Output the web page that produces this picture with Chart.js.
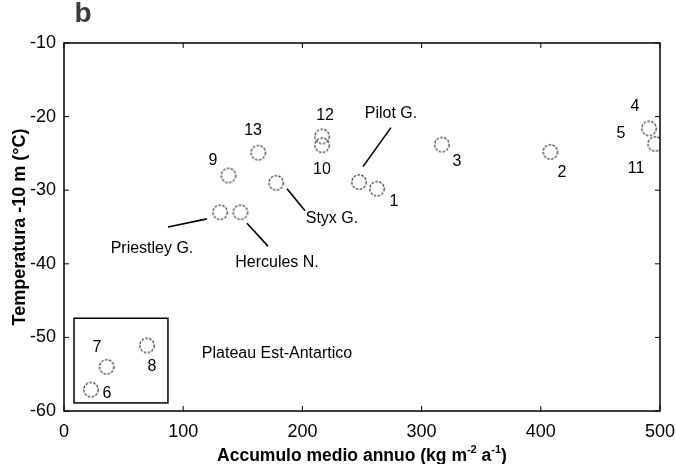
<!DOCTYPE html>
<html>
<head>
<meta charset="utf-8">
<script src="https://cdn.jsdelivr.net/npm/chart.js@4.4.1/dist/chart.umd.min.js"></script>
<style>
  html, body { margin: 0; padding: 0; background: #ffffff; }
  #wrap { width: 676px; height: 464px; position: relative; }
</style>
</head>
<body>
<div id="wrap"><canvas id="chart"></canvas></div>
<script>
// dati: accumulo (kg m-2 a-1) e temperatura a -10 m (°C)
var siteIds = ["1", "2", "3", "4", "11", "6", "7", "8", "9", "10", "12", "13", "Styx", "Pilot", "Priestley", "Hercules"];
var accumulo = [262.6, 408, 317, 490.8, 496, 22.6, 35.8, 69.6, 138, 216.5, 216.5, 163, 178, 247.5, 131, 148];
var temperatura = [-29.8, -24.8, -23.8, -21.6, -23.7, -57.1, -54.0, -51.1, -28.0, -23.9, -22.7, -24.9, -29.0, -28.9, -33.0, -33.0];

// etichette numeriche e testi (posizioni in unita' dei dati)
var labelTexts = ["13", "9", "12", "10", "1", "3", "2", "4", "5", "11", "7", "8", "6",
  "Styx G.", "Pilot G.", "Priestley G.", "Hercules N.", "Plateau Est-Antartico"];
var labelX = [158.6, 125, 219, 216.4, 276.8, 329.7, 417.8, 479, 467.3, 479.9, 27.7, 73.8, 36.1,
  224.8, 274.3, 73.8, 178.7, 178.7];
var labelY = [-21.9, -26.0, -19.8, -27.2, -31.6, -26.1, -27.6, -18.6, -22.3, -27.1, -51.4, -54.0, -57.7,
  -33.8, -19.6, -38.0, -39.9, -52.2];

// linee di richiamo [x1, y1, x2, y2]
var leaderLines = [
  [187.1, -29.8, 202.2, -32.8],
  [274.3, -21.5, 250.8, -26.8],
  [87.2, -35.0, 120, -33.9],
  [153.5, -34.5, 171.1, -37.6]
];

// riquadro plateau
var boxX = [8.4, 87.2];
var boxY = [-47.4, -58.9];

var xTicks = [0, 100, 200, 300, 400, 500];
var yTicks = [-10, -20, -30, -40, -50, -60];

// cerchio tratteggiato per i punti
function dashedCircle() {
  var c = document.createElement("canvas");
  c.width = 18;
  c.height = 18;
  var g = c.getContext("2d");
  g.strokeStyle = "#2a2a2a";
  g.lineWidth = 1.2;
  g.setLineDash([2.5, 1.5]);
  g.beginPath();
  g.arc(9, 9, 7.2, 0, Math.PI * 2);
  g.stroke();
  return c;
}

var FONT = "'Liberation Sans', Arial, sans-serif";

var annotazioni = {
  id: "annotazioni",
  afterDatasetsDraw: function (chart) {
    var ctx = chart.ctx;
    var xs = chart.scales.x;
    var ys = chart.scales.y;
    var a = chart.chartArea;
    ctx.save();

    // cornice e tacche interne
    ctx.strokeStyle = "#000000";
    ctx.lineWidth = 1.5;
    ctx.strokeRect(a.left, a.top, a.right - a.left, a.bottom - a.top);
    ctx.lineWidth = 1;
    xTicks.forEach(function (v) {
      var px = xs.getPixelForValue(v);
      ctx.beginPath();
      ctx.moveTo(px, a.bottom);
      ctx.lineTo(px, a.bottom - 5);
      ctx.moveTo(px, a.top);
      ctx.lineTo(px, a.top + 5);
      ctx.stroke();
    });
    yTicks.forEach(function (v) {
      var py = ys.getPixelForValue(v);
      ctx.beginPath();
      ctx.moveTo(a.left, py);
      ctx.lineTo(a.left + 5, py);
      ctx.moveTo(a.right, py);
      ctx.lineTo(a.right - 5, py);
      ctx.stroke();
    });

    // riquadro
    ctx.lineWidth = 1.5;
    var bx1 = xs.getPixelForValue(boxX[0]);
    var bx2 = xs.getPixelForValue(boxX[1]);
    var by1 = ys.getPixelForValue(boxY[0]);
    var by2 = ys.getPixelForValue(boxY[1]);
    ctx.strokeRect(bx1, by1, bx2 - bx1, by2 - by1);

    // linee di richiamo
    ctx.lineWidth = 1.6;
    leaderLines.forEach(function (l) {
      ctx.beginPath();
      ctx.moveTo(xs.getPixelForValue(l[0]), ys.getPixelForValue(l[1]));
      ctx.lineTo(xs.getPixelForValue(l[2]), ys.getPixelForValue(l[3]));
      ctx.stroke();
    });

    // testi
    ctx.fillStyle = "#000000";
    ctx.textAlign = "center";
    ctx.textBaseline = "middle";
    ctx.font = "16px " + FONT;
    for (var i = 0; i < labelTexts.length; i++) {
      ctx.fillText(labelTexts[i], xs.getPixelForValue(labelX[i]), ys.getPixelForValue(labelY[i]));
    }

    // titolo asse x con apici
    ctx.textAlign = "left";
    ctx.textBaseline = "alphabetic";
    var parts = [
      ["Accumulo medio annuo (kg m", 0],
      ["-2", 1],
      [" a", 0],
      ["-1", 1],
      [")", 0]
    ];
    var big = "bold 17.5px " + FONT;
    var small = "bold 11px " + FONT;
    var w = 0;
    parts.forEach(function (p) {
      ctx.font = p[1] ? small : big;
      w += ctx.measureText(p[0]).width;
    });
    var x0 = (a.left + a.right) / 2 - w / 2;
    var base = 461;
    parts.forEach(function (p) {
      ctx.font = p[1] ? small : big;
      ctx.fillText(p[0], x0, p[1] ? base - 8 : base);
      x0 += ctx.measureText(p[0]).width;
    });

    // titolo asse y
    ctx.save();
    ctx.translate(20, (a.top + a.bottom) / 2);
    ctx.rotate(-Math.PI / 2);
    ctx.textAlign = "center";
    ctx.textBaseline = "middle";
    ctx.font = "bold 18px " + FONT;
    ctx.fillText("Temperatura -10 m (\u00B0C)", 0, 0);
    ctx.restore();

    // lettera pannello
    ctx.font = "bold 28px " + FONT;
    ctx.fillStyle = "#3a3a3a";
    ctx.textAlign = "center";
    ctx.fillText("b", 83, 22);

    ctx.restore();
  }
};

var ctx = document.getElementById("chart").getContext("2d");
var chart = new Chart(ctx, {
  type: "scatter",
  data: {
    datasets: [
      {
        label: "siti",
        data: accumulo.map(function (v, i) {
          return { x: v, y: temperatura[i] };
        }),
        pointStyle: dashedCircle(),
        pointRadius: 7,
        pointHoverRadius: 7,
      },
    ],
  },
  options: {
    responsive: true,
    maintainAspectRatio: false,
    animation: false,
    layout: {
      padding: { left: 0, right: 16, top: 43, bottom: 0 },
    },
    plugins: {
      legend: { display: false },
      tooltip: { enabled: false },
    },
    scales: {
      x: {
        type: "linear",
        min: 0,
        max: 500,
        afterBuildTicks: function (s) {
          s.ticks = xTicks.map(function (v) { return { value: v }; });
        },
        afterFit: function (s) {
          s.height = 53;
          s.paddingLeft = 0;
          s.paddingRight = 0;
        },
        grid: { display: false, drawTicks: false },
        border: { display: false },
        ticks: {
          color: "#000000",
          padding: 10,
          maxRotation: 0,
          font: { size: 18, family: FONT },
        },
      },
      y: {
        type: "linear",
        min: -60,
        max: -10,
        afterBuildTicks: function (s) {
          s.ticks = yTicks.map(function (v) { return { value: v }; });
        },
        afterFit: function (s) {
          s.width = 64;
          s.paddingTop = 0;
          s.paddingBottom = 0;
        },
        grid: { display: false, drawTicks: false },
        border: { display: false },
        ticks: {
          color: "#000000",
          padding: 8,
          font: { size: 18, family: FONT },
        },
      },
    },
  },
  plugins: [annotazioni],
});
</script>
</body>
</html>
